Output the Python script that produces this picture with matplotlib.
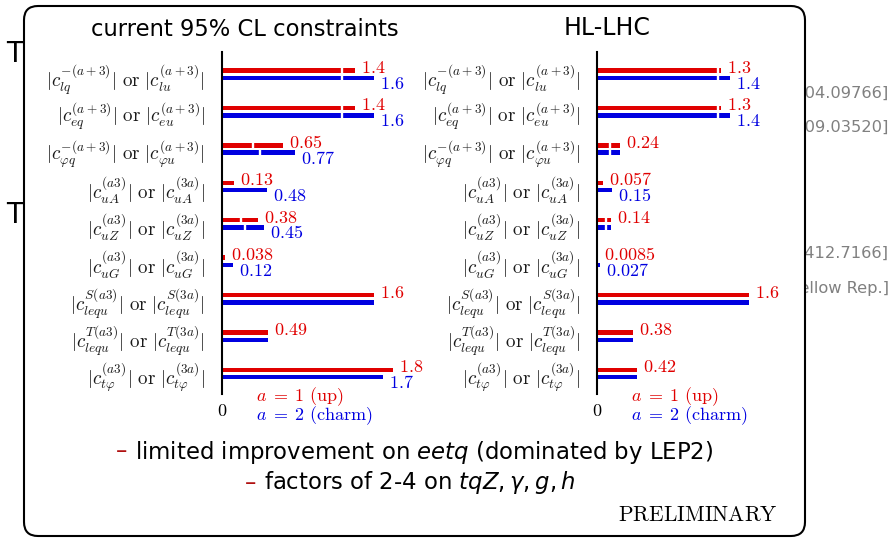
"""Two-panel horizontal bar chart: current vs HL-LHC 95% CL bounds on top-quark FCNC operators."""

import matplotlib
matplotlib.use("Agg")
import matplotlib.pyplot as plt
import numpy as np
from matplotlib.patches import FancyBboxPatch
from matplotlib.transforms import IdentityTransform

W, H = 892, 538
nan = np.nan

rows = [
    r"$|c_{lq}^{-(a+3)}|\ \mathrm{or}\ |c_{lu}^{(a+3)}|$",
    r"$|c_{eq}^{(a+3)}|\ \mathrm{or}\ |c_{eu}^{(a+3)}|$",
    r"$|c_{\varphi q}^{-(a+3)}|\ \mathrm{or}\ |c_{\varphi u}^{(a+3)}|$",
    r"$|c_{uA}^{(a3)}|\ \mathrm{or}\ |c_{uA}^{(3a)}|$",
    r"$|c_{uZ}^{(a3)}|\ \mathrm{or}\ |c_{uZ}^{(3a)}|$",
    r"$|c_{uG}^{(a3)}|\ \mathrm{or}\ |c_{uG}^{(3a)}|$",
    r"$|c_{lequ}^{S(a3)}|\ \mathrm{or}\ |c_{lequ}^{S(3a)}|$",
    r"$|c_{lequ}^{T(a3)}|\ \mathrm{or}\ |c_{lequ}^{T(3a)}|$",
    r"$|c_{t\varphi}^{(a3)}|\ \mathrm{or}\ |c_{t\varphi}^{(3a)}|$",
]

# current bounds (a=1 up, a=2 charm) and where the bar is split
cur_up = [1.4, 1.4, 0.65, 0.13, 0.38, 0.038, 1.6, 0.49, 1.8]
cur_charm = [1.6, 1.6, 0.77, 0.48, 0.45, 0.12, 1.6, 0.49, 1.7]
cur_up_split = [1.27, 1.27, 0.33, nan, 0.20, nan, nan, nan, nan]
cur_charm_split = [1.27, 1.27, 0.40, nan, 0.24, nan, nan, nan, nan]

# HL-LHC projections
hl_up = [1.3, 1.3, 0.24, 0.057, 0.14, 0.0085, 1.6, 0.38, 0.42]
hl_charm = [1.4, 1.4, 0.24, 0.15, 0.14, 0.027, 1.6, 0.38, 0.42]
hl_up_split = [1.27, 1.27, 0.13, nan, 0.09, nan, nan, nan, nan]
hl_charm_split = [1.27, 1.27, 0.13, nan, 0.09, nan, nan, nan, nan]

panel_titles = ["current 95% CL constraints", "HL-LHC"]
legend_labels = [r"$a\;=\;1\ \mathrm{(up)}$", r"$a\;=\;2\ \mathrm{(charm)}$"]

RED = "#e00000"
BLUE = "#0000e0"
BH = 0.12
OFF = 0.098
FS = 13

plt.rcParams["mathtext.fontset"] = "cm"


def px(x, y):
    """pixel (top-left origin) -> figure fraction"""
    return x / W, 1 - y / H


def draw_panel(ax, up, charm, up_split, charm_split, xmax):
    y = np.arange(len(rows))
    ax.barh(y - OFF, up, height=BH, color=RED)
    ax.barh(y + OFF, charm, height=BH, color=BLUE)

    # white separators inside the split bars
    for splits, dy in ((up_split, -OFF), (charm_split, OFF)):
        for i, s in enumerate(splits):
            if not np.isnan(s):
                ax.vlines(s, i + dy - BH * 0.7, i + dy + BH * 0.7, color="white", lw=1.7)

    for i, (u, c) in enumerate(zip(up, charm)):
        ax.annotate(f"${u:g}$", (u, i - OFF), xytext=(4.3, -1.8), textcoords="offset points",
                    color=RED, va="baseline", ha="left", fontsize=FS)
        if c != u:
            ax.annotate(f"${c:g}$", (c, i + OFF), xytext=(4.3, -7.9), textcoords="offset points",
                        color=BLUE, va="baseline", ha="left", fontsize=FS)

    ax.set_xlim(0, xmax)
    ax.set_ylim(8.548, -0.593)
    ax.set_facecolor("none")
    for side in ("top", "right", "bottom"):
        ax.spines[side].set_visible(False)
    ax.spines["left"].set_linewidth(1.5)
    ax.set_yticks(y, rows)
    ax.tick_params(axis="y", length=0, pad=12, labelsize=13.7, labelcolor="#1a1a1a")
    ax.set_xticks([0], [r"$0$"])
    ax.tick_params(axis="x", length=0, pad=6, labelsize=FS)


def main() -> None:
    fig = plt.figure(figsize=(W / 100, H / 100), dpi=100)

    # slide content behind the box
    for yb in (62, 223):
        fig.text(*px(6, yb), "T", fontsize=20, va="baseline", color="black", zorder=0)
    refs = ["[arXiv:1804.09766]", "[arXiv:1809.03520]", "[arXiv:1412.7166]", "[CERN Yellow Rep.]"]
    for ref, yc in zip(refs, (93, 127, 253, 288)):
        fig.text(*px(889, yc), ref, fontsize=11.7, ha="right", va="center", color="#808080", zorder=0)

    box = FancyBboxPatch((24, H - 536), 805 - 24, 536 - 6, boxstyle="round,pad=0,rounding_size=14",
                         transform=IdentityTransform(), facecolor="white", edgecolor="black",
                         lw=1.5, zorder=1)
    fig.patches.append(box)

    # panels
    ax1 = fig.add_axes([221.7 / W, 1 - 394 / H, 95 * 2.2 / W, (394 - 52) / H], zorder=2)
    draw_panel(ax1, cur_up, cur_charm, cur_up_split, cur_charm_split, 2.2)
    ax2 = fig.add_axes([597.3 / W, 1 - 394 / H, 95 * 2.0 / W, (394 - 52) / H], zorder=2)
    draw_panel(ax2, hl_up, hl_charm, hl_up_split, hl_charm_split, 2.0)

    fig.text(*px(245, 30), panel_titles[0], fontsize=16.3, ha="center", va="center", zorder=3)
    fig.text(*px(607, 28), panel_titles[1], fontsize=17, ha="center", va="center", zorder=3)

    for x0 in (256, 631):
        fig.text(*px(x0, 397), legend_labels[0], color=RED, fontsize=FS, va="center", zorder=3)
        fig.text(*px(x0, 416), legend_labels[1], color=BLUE, fontsize=FS, va="center", zorder=3)

    # bullet lines
    renderer = fig.canvas.get_renderer()
    lines = [
        (424, 452, r"limited improvement on $\mathit{eetq}$ (dominated by LEP2)"),
        (420, 483, r"factors of 2-4 on $\mathit{tqZ},\gamma,\mathit{g},\mathit{h}$"),
    ]
    for xc, yc, txt in lines:
        t = fig.text(*px(xc, yc), txt, fontsize=16.4, ha="center", va="center",
                     math_fontfamily="dejavusans", zorder=3)
        bb = t.get_window_extent(renderer)
        fig.text((bb.x0 - 8) / W, 1 - yc / H, "\u2013", fontsize=16.4, ha="right", va="center",
                 color="#b01010", zorder=3)

    fig.text(*px(778, 515), r"$\mathrm{PRELIMINARY}$", fontsize=15.5, ha="right", va="center", zorder=3)

    fig.savefig("out.png", dpi=100)
    plt.close(fig)


if __name__ == "__main__":
    main()
